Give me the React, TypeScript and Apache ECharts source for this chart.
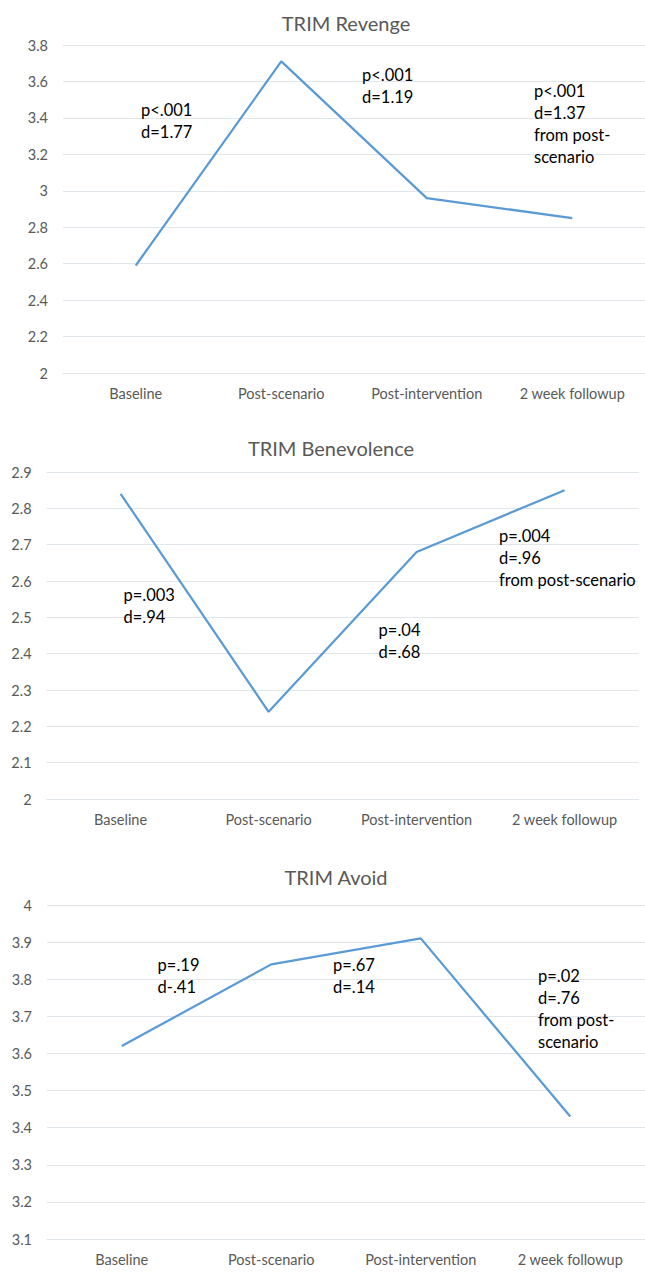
import React, { useEffect, useRef } from "react";
import * as echarts from "echarts";

const categories = ["Baseline", "Post-scenario", "Post-intervention", "2 week followup"];

const revengeValues = [2.59, 3.71, 2.96, 2.85];
const benevolenceValues = [2.84, 2.24, 2.68, 2.85];
const avoidValues = [3.62, 3.84, 3.91, 3.43];

const titles = ["TRIM Revenge", "TRIM Benevolence", "TRIM Avoid"];

// y-axis ranges [min, max, interval]
const revengeAxis = [2, 3.8, 0.2];
const benevolenceAxis = [2, 2.9, 0.1];
const avoidAxis = [3.1, 4, 0.1];

const revengeNotes = ["p<.001\nd=1.77", "p<.001\nd=1.19", "p<.001\nd=1.37\nfrom post-\nscenario"];
const benevolenceNotes = ["p=.003\nd=.94", "p=.04\nd=.68", "p=.004\nd=.96\nfrom post-scenario"];
const avoidNotes = ["p=.19\nd-.41", "p=.67\nd=.14", "p=.02\nd=.76\nfrom post-\nscenario"];

const FONT = "Lato, 'Liberation Sans', sans-serif";
const LINE_COLOR = "#5B9BD5";
const GRAY = "#595959";

export default function App() {
  const ref = useRef<HTMLDivElement>(null);

  useEffect(() => {
    document.body.style.margin = "0";
    if (!ref.current) return;
    const chart = echarts.init(ref.current, undefined, { renderer: "svg" });

    const grids = [
      { left: 63, top: 45, width: 587, height: 328 },
      { left: 46.6, top: 472, width: 592, height: 327 },
      { left: 47, top: 905, width: 601, height: 334 },
    ];
    const axes = [revengeAxis, benevolenceAxis, avoidAxis];
    const values = [revengeValues, benevolenceValues, avoidValues];
    const titlePos = [
      { x: 341, y: 8 },
      { x: 326, y: 433 },
      { x: 331, y: 862 },
    ];
    const notes = [revengeNotes, benevolenceNotes, avoidNotes];
    const notePos = [
      [{ x: 141, y: 99 }, { x: 362, y: 63.5 }, { x: 534, y: 80 }],
      [{ x: 123.5, y: 583.5 }, { x: 378.6, y: 619 }, { x: 499, y: 525 }],
      [{ x: 157.6, y: 954 }, { x: 333, y: 954 }, { x: 538, y: 965 }],
    ];

    const graphic: any[] = [];
    notes.forEach((group, gi) => {
      group.forEach((t, ti) => {
        graphic.push({
          type: "text",
          z: 100,
          x: notePos[gi][ti].x,
          y: notePos[gi][ti].y,
          style: {
            text: t,
            fill: "#000",
            font: `16.5px ${FONT}`,
            lineHeight: 22,
            textVerticalAlign: "top",
          },
        });
      });
    });

    const option: any = {
      animation: false,
      backgroundColor: "#ffffff",
      title: titles.map((t, i) => ({
        text: t,
        left: titlePos[i].x,
        top: titlePos[i].y,
        textAlign: "center",
        textStyle: { fontFamily: FONT, fontSize: 20, fontWeight: "normal", color: GRAY },
      })),
      grid: grids,
      xAxis: grids.map((_, i) => ({
        type: "category",
        gridIndex: i,
        data: categories,
        boundaryGap: true,
        axisLine: { show: true, lineStyle: { color: "#e1e6ec" } },
        axisTick: { show: false },
        axisLabel: { color: GRAY, fontFamily: FONT, fontSize: 14.5, margin: 13, interval: 0 },
      })),
      yAxis: axes.map((a, i) => ({
        type: "value",
        gridIndex: i,
        min: a[0],
        max: a[1],
        interval: a[2],
        axisLine: { show: false },
        axisTick: { show: false },
        splitLine: { show: true, lineStyle: { color: "#e1e6ec", width: 1 } },
        axisLabel: { color: GRAY, fontFamily: FONT, fontSize: 14.5, margin: 15 },
      })),
      series: values.map((v, i) => ({
        type: "line",
        xAxisIndex: i,
        yAxisIndex: i,
        data: v,
        symbol: "none",
        lineStyle: { color: LINE_COLOR, width: 2.25 },
      })),
      graphic,
    };

    chart.setOption(option);
    return () => chart.dispose();
  }, []);

  return <div ref={ref} style={{ width: 645, height: 1272 }} />;
}
